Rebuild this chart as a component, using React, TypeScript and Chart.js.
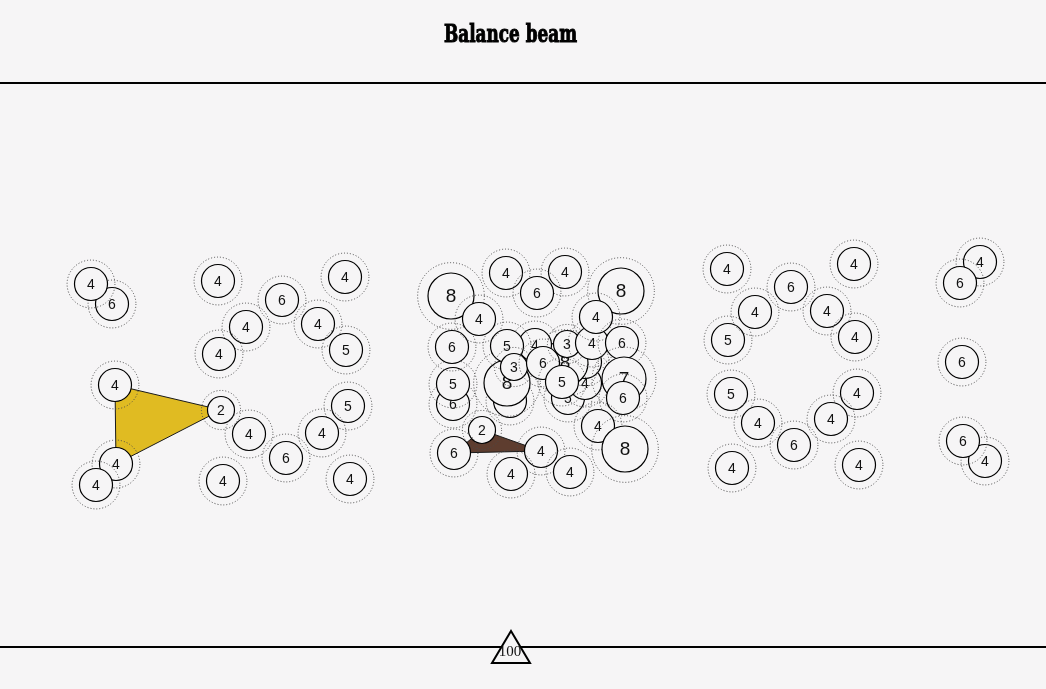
import { useEffect, useRef } from "react";
import Chart from "chart.js/auto";

// ---------- data ----------
const title = "Balance beam";

// difficulty value of each element, in drawing order
const scores = [
  // left block
  6, 4, 4, 6, 4, 4, 4, 4, 5, 4, 2, 5, 4, 4, 6, 4, 4, 4, 4,
  // middle block
  6, 6, 5, 4, 4, 8, 8, 4, 5, 3, 6, 5, 3, 4, 5, 6, 8, 4, 4, 4, 6, 8, 4, 6, 7, 6, 4, 8, 2, 6, 4, 4, 4,
  // right block
  4, 4, 6, 5, 4, 4, 4, 5, 4, 4, 4, 6, 4, 4,
  // far right
  4, 6, 6, 4, 6,
];

// position along the routine (horizontal)
const xs = [
  112, 91, 218, 282, 345, 246, 318, 219, 346, 115, 221, 348, 249, 322, 286, 116, 96, 223, 350,
  510, 453, 568, 585, 585, 565, 507, 535, 507, 514, 543, 562, 567, 592, 453, 452, 451, 479, 506, 565, 537, 621, 596, 622, 624, 623, 598, 625, 482, 454, 541, 511, 570,
  727, 854, 791, 728, 755, 827, 855, 731, 857, 758, 831, 794, 732, 859,
  980, 960, 962, 985, 963,
];

// vertical position
const ys = [
  304, 284, 281, 300, 277, 327, 324, 354, 350, 385, 410, 406, 434, 433, 458, 464, 485, 481, 479,
  401, 404, 398, 383, 362, 363, 383, 345, 346, 367, 363, 382, 344, 343, 384, 347, 296, 319, 273, 272, 293, 291, 317, 343, 379, 398, 426, 449, 430, 453, 451, 474, 472,
  269, 264, 287, 340, 312, 311, 337, 394, 393, 423, 419, 445, 468, 465,
  262, 283, 362, 461, 441,
];

// connected element groups (filled shapes)
const yellowGroupX = [115, 221, 116, 115];
const yellowGroupY = [385, 410, 464, 385];
const brownGroupX = [482, 541, 454, 482];
const brownGroupY = [430, 451, 453, 430];

// beam guides
const beamTopY = 83;
const beamBottomY = 647;
const markerX = 511;
const markerLabel = "100";

// ---------- styles ----------
const BG = "#f6f5f6";
const radiusByScore: Record<number, number> = { 2: 13.5, 3: 13.5, 4: 16.5, 5: 16.5, 6: 16.5, 7: 22, 8: 23 };
const fontByScore: Record<number, number> = { 2: 14, 3: 14, 4: 14, 5: 14, 6: 14, 7: 19, 8: 19 };

const decorPlugin = {
  id: "decor",
  beforeDraw(chart: any) {
    const { ctx, width, height } = chart;
    ctx.save();
    ctx.fillStyle = BG;
    ctx.fillRect(0, 0, width, height);
    // title
    ctx.fillStyle = "#000";
    ctx.strokeStyle = "#000";
    ctx.lineWidth = 1.1;
    ctx.font = 'bold 25px "DejaVu Serif"';
    ctx.textAlign = "center";
    ctx.textBaseline = "alphabetic";
    const w = ctx.measureText(title).width;
    ctx.translate(510.5, 42);
    ctx.scale(133 / w, 1);
    ctx.fillText(title, 0, 0);
    ctx.strokeText(title, 0, 0);
    ctx.restore();
    // beam lines
    const yS = chart.scales.y;
    ctx.save();
    ctx.strokeStyle = "#000";
    ctx.lineWidth = 2;
    [beamTopY, beamBottomY].forEach((v) => {
      const py = Math.round(yS.getPixelForValue(v));
      ctx.beginPath();
      ctx.moveTo(0, py);
      ctx.lineTo(width, py);
      ctx.stroke();
    });
    ctx.restore();
  },
  afterDatasetDraw(chart: any, args: any) {
    const ds = chart.data.datasets[args.index];
    if (ds.type !== "bubble") return;
    const el = args.meta.data[0];
    if (!el) return;
    const r = el.options.radius;
    const score = ds.score;
    const ctx = chart.ctx;
    ctx.save();
    ctx.setLineDash([1, 2]);
    ctx.strokeStyle = "#4a4a4a";
    ctx.lineWidth = 1;
    ctx.beginPath();
    ctx.arc(el.x, el.y, r * 1.45, 0, Math.PI * 2);
    ctx.stroke();
    ctx.setLineDash([]);
    ctx.fillStyle = "#111";
    ctx.font = `${fontByScore[score] || 14}px "Liberation Sans", Arial, sans-serif`;
    ctx.textAlign = "center";
    ctx.textBaseline = "middle";
    ctx.fillText(String(score), el.x, el.y + 1);
    ctx.restore();
  },
  afterDraw(chart: any) {
    const ctx = chart.ctx;
    const px = chart.scales.x.getPixelForValue(markerX);
    const py = chart.scales.y.getPixelForValue(beamBottomY);
    ctx.save();
    ctx.beginPath();
    ctx.moveTo(px, py - 16);
    ctx.lineTo(px + 19, py + 16);
    ctx.lineTo(px - 19, py + 16);
    ctx.closePath();
    ctx.fillStyle = BG;
    ctx.fill();
    ctx.strokeStyle = "#000";
    ctx.lineWidth = 2;
    ctx.lineJoin = "miter";
    ctx.stroke();
    ctx.fillStyle = "#111";
    ctx.font = '15px "Liberation Serif", serif';
    ctx.textAlign = "center";
    ctx.textBaseline = "middle";
    ctx.fillText(markerLabel, px - 1, py + 5);
    ctx.restore();
  },
};

export default function App() {
  const ref = useRef<HTMLCanvasElement | null>(null);
  useEffect(() => {
    if (!ref.current) return;
    const n = scores.length;
    const bubbleSets = scores.map((s, i) => ({
      type: "bubble" as const,
      score: s,
      data: [{ x: xs[i], y: ys[i], r: radiusByScore[s] }],
      backgroundColor: BG,
      borderColor: "#000",
      borderWidth: 1.2,
      hoverBorderWidth: 1.2,
      clip: false,
      order: n - i,
    }));
    const shape = (gx: number[], gy: number[], color: string) => ({
      type: "line" as const,
      data: gx.map((x, i) => ({ x, y: gy[i] })),
      fill: "shape",
      backgroundColor: color,
      borderColor: "#1a1a1a",
      borderWidth: 1,
      pointRadius: 0,
      tension: 0,
      order: 1000,
    });
    const chart = new Chart(ref.current, {
      type: "bubble",
      data: {
        datasets: [
          shape(yellowGroupX, yellowGroupY, "#e0bb22"),
          shape(brownGroupX, brownGroupY, "#5e3d2f"),
          ...bubbleSets,
        ] as any,
      },
      options: {
        animation: false,
        responsive: false,
        events: [],
        layout: { padding: 0, autoPadding: false },
        plugins: { legend: { display: false }, tooltip: { enabled: false }, title: { display: false } },
        scales: {
          x: { type: "linear", min: 0, max: 1046, display: false },
          y: { type: "linear", min: 0, max: 689, reverse: true, display: false },
        },
      },
      plugins: [decorPlugin],
    } as any);
    return () => chart.destroy();
  }, []);
  return (
    <div style={{ position: "fixed", left: 0, top: 0, width: 1046, height: 689, background: BG }}>
      <canvas ref={ref} width={1046} height={689} style={{ display: "block" }} />
    </div>
  );
}
